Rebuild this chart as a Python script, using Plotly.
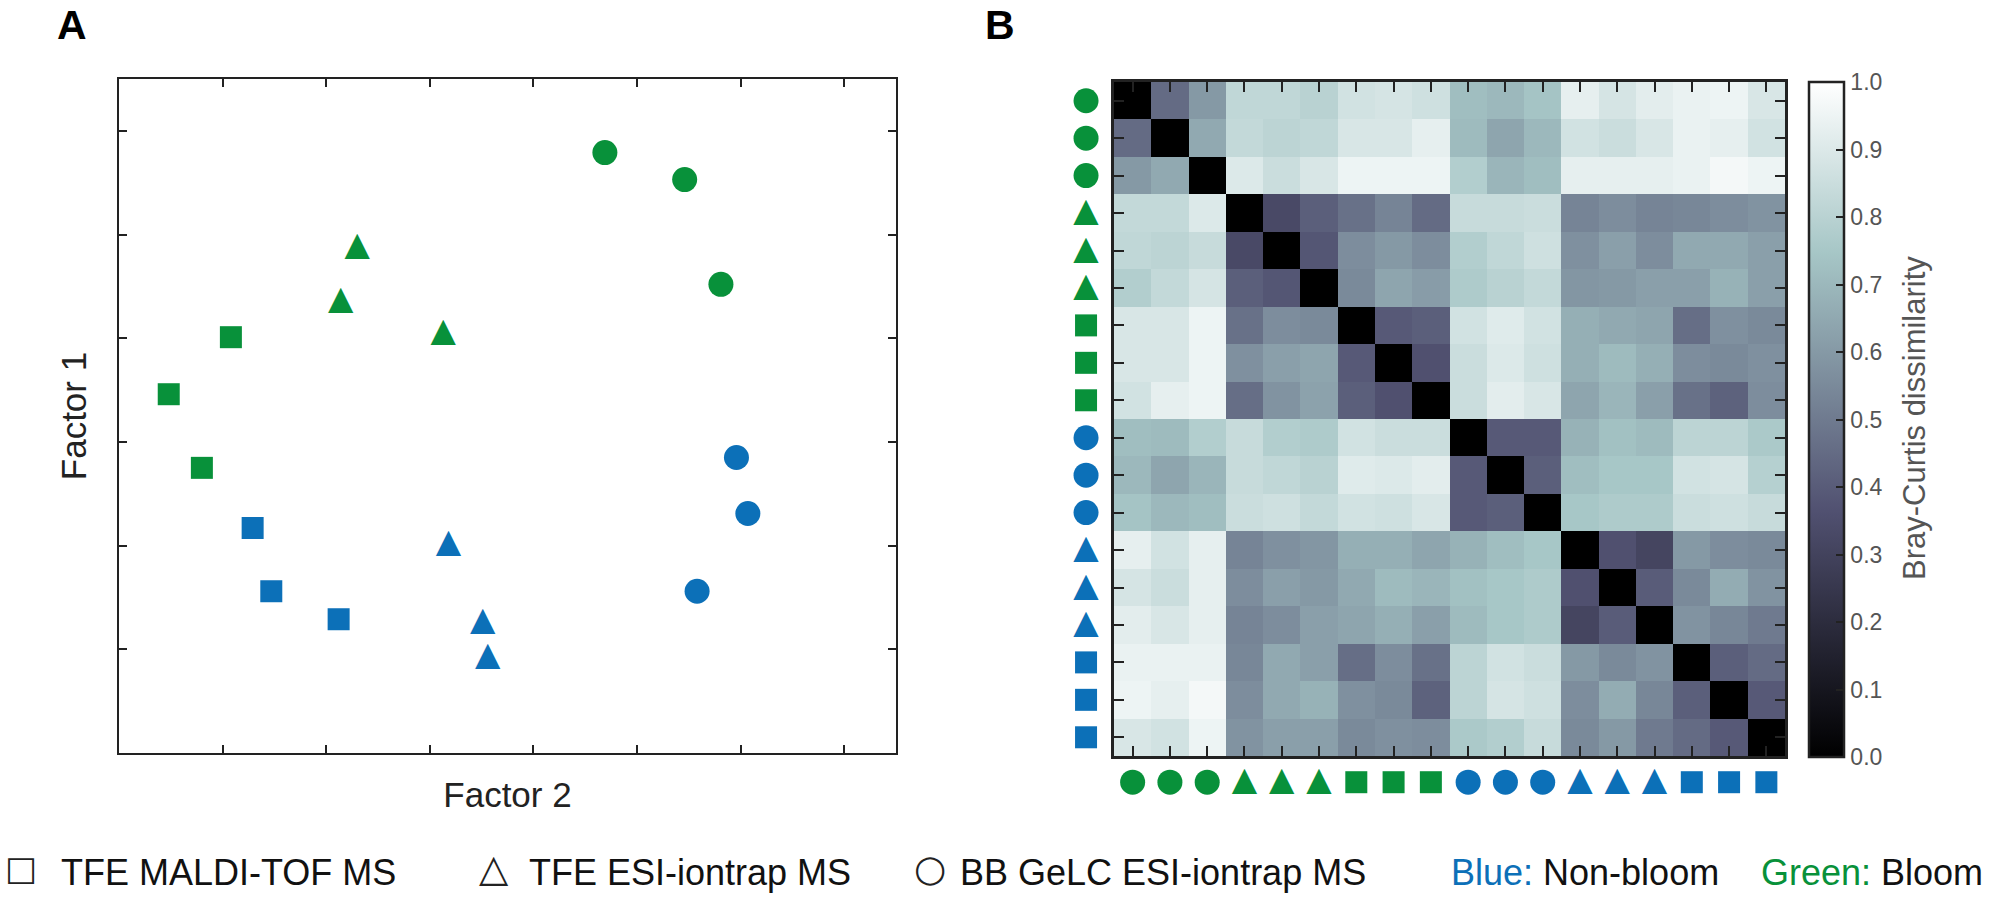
import plotly.graph_objects as go

W = 2003
H = 901
GREEN = "#08913a"
BLUE = "#0c70b8"
DARK = "#222222"
FONT = "Liberation Sans"

# panel A, one pair of lists per group
green_circle_x = [4.69, 5.46, 5.81]
green_circle_y = [5.79, 5.53, 4.52]
green_triangle_x = [2.30, 2.14, 3.13]
green_triangle_y = [4.88, 4.36, 4.05]
green_square_x = [1.08, 0.48, 0.80]
green_square_y = [4.01, 3.46, 2.75]
blue_square_x = [1.29, 1.47, 2.12]
blue_square_y = [2.17, 1.56, 1.29]
blue_triangle_x = [3.18, 3.51, 3.56]
blue_triangle_y = [2.02, 1.27, 0.93]
blue_circle_x = [5.96, 6.07, 5.58]
blue_circle_y = [2.85, 2.31, 1.56]

# panel B
sample_shapes = ["circle"] * 3 + ["triangle"] * 3 + ["square"] * 3 + ["circle"] * 3 + ["triangle"] * 3 + ["square"] * 3
sample_colors = [GREEN] * 9 + [BLUE] * 9
samples = list(range(18))
dissimilarity = [
    [0, .45, .60, .82, .82, .80, .87, .88, .86, .72, .70, .74, .93, .88, .92, .94, .95, .89],
    [.45, 0, .65, .83, .81, .82, .89, .89, .93, .71, .64, .70, .87, .85, .89, .94, .93, .87],
    [.60, .65, 0, .90, .85, .89, .95, .95, .95, .78, .69, .72, .93, .93, .93, .94, .97, .95],
    [.83, .83, .90, 0, .33, .41, .47, .53, .45, .84, .84, .85, .53, .56, .53, .54, .56, .58],
    [.82, .81, .84, .33, 0, .38, .56, .60, .56, .78, .82, .86, .57, .62, .56, .65, .65, .62],
    [.78, .83, .88, .41, .38, 0, .55, .64, .61, .77, .80, .83, .59, .60, .62, .62, .68, .62],
    [.89, .89, .95, .47, .56, .55, 0, .39, .41, .87, .91, .87, .67, .65, .64, .46, .57, .55],
    [.89, .89, .95, .57, .62, .64, .39, 0, .36, .85, .90, .86, .67, .71, .67, .56, .55, .57],
    [.87, .93, .95, .46, .58, .63, .41, .36, 0, .85, .92, .89, .64, .69, .62, .47, .42, .56],
    [.72, .71, .78, .84, .78, .77, .87, .85, .85, 0, .39, .39, .68, .73, .71, .81, .81, .76],
    [.70, .64, .69, .84, .82, .80, .91, .90, .92, .39, 0, .41, .72, .75, .75, .87, .88, .79],
    [.74, .70, .72, .85, .86, .83, .87, .86, .89, .39, .41, 0, .75, .77, .77, .85, .86, .84],
    [.93, .87, .93, .53, .57, .59, .67, .67, .64, .68, .72, .75, 0, .36, .31, .60, .56, .55],
    [.88, .85, .93, .56, .62, .60, .65, .71, .69, .73, .75, .77, .36, 0, .40, .55, .66, .58],
    [.92, .89, .93, .53, .56, .62, .64, .67, .62, .71, .75, .77, .31, .40, 0, .58, .54, .50],
    [.94, .94, .94, .54, .65, .62, .46, .56, .47, .81, .87, .85, .60, .55, .58, 0, .41, .45],
    [.95, .93, .97, .56, .65, .68, .57, .55, .42, .81, .88, .86, .56, .66, .54, .41, 0, .39],
    [.89, .87, .95, .58, .62, .62, .55, .57, .56, .76, .78, .84, .55, .60, .50, .45, .39, 0],
]

# where the symbol columns sit, in cells, outside the matrix
left_symbol_x = -1.25
bottom_symbol_y = 18.2

# same stops as the "bone" map
bone = [
    [0, "rgb(0,0,0)"],
    [0.365, "rgb(81,81,113)"],
    [0.746, "rgb(166,198,198)"],
    [1, "rgb(255,255,255)"],
]


def px(x):
    return x / W


def py(y):
    return 1 - y / H


fig = go.Figure()


def add_marks(x, y, shape, color, xaxis, yaxis):
    # plotly's triangle marker is too flat, the glyph has the right proportions
    if shape == "triangle":
        fig.add_trace(go.Scatter(x=x, y=y, mode="text", text=["\u25b2"] * len(x),
                                 textfont=dict(family="DejaVu Sans", size=33, color=color),
                                 textposition="middle center", cliponaxis=False,
                                 xaxis=xaxis, yaxis=yaxis, showlegend=False))
    else:
        fig.add_trace(go.Scatter(x=x, y=y, mode="markers",
                                 marker=dict(symbol=shape, size=25 if shape == "circle" else 22, color=color),
                                 cliponaxis=False, xaxis=xaxis, yaxis=yaxis, showlegend=False))


add_marks(green_circle_x, green_circle_y, "circle", GREEN, "x", "y")
add_marks(green_triangle_x, green_triangle_y, "triangle", GREEN, "x", "y")
add_marks(green_square_x, green_square_y, "square", GREEN, "x", "y")
add_marks(blue_square_x, blue_square_y, "square", BLUE, "x", "y")
add_marks(blue_triangle_x, blue_triangle_y, "triangle", BLUE, "x", "y")
add_marks(blue_circle_x, blue_circle_y, "circle", BLUE, "x", "y")

fig.add_trace(go.Heatmap(
    z=dissimilarity, x=samples, y=samples, colorscale=bone, zmin=0, zmax=1, xaxis="x2", yaxis="y2",
    colorbar=dict(
        thicknessmode="pixels", thickness=35, lenmode="pixels", len=675,
        x=px(1809), xanchor="left", y=py(757), yanchor="bottom", xpad=0, ypad=0,
        outlinewidth=2.5, outlinecolor=DARK,
        ticks="inside", ticklen=9, tickwidth=2, tickcolor=DARK,
        tickmode="linear", tick0=0, dtick=0.1, tickformat=".1f",
        tickfont=dict(family=FONT, size=23, color="#555555"),
    ),
))

# sample symbols along the left and bottom of the matrix, on a hidden wider axis pair
# because plotly drops points that are outside their own axis range
for i in samples:
    add_marks([left_symbol_x], [i], sample_shapes[i], sample_colors[i], "x3", "y3")
    add_marks([i], [bottom_symbol_y], sample_shapes[i], sample_colors[i], "x3", "y3")

axis_style = dict(showgrid=False, zeroline=False, showticklabels=False, showline=True, linewidth=2,
                  linecolor=DARK, mirror="ticks", ticks="inside", ticklen=8, tickwidth=2, tickcolor=DARK)
matrix_style = dict(axis_style, linewidth=3, ticklen=10)

cell_w = (1785 - 1114) / 18
cell_h = (756 - 82) / 18

fig.update_layout(
    width=W, height=H, margin=dict(l=0, r=0, t=0, b=0), autosize=False,
    paper_bgcolor="white", plot_bgcolor="rgba(0,0,0,0)", showlegend=False,
    xaxis=dict(domain=[px(119), px(896)], range=[0, 7.5], tickvals=[1, 2, 3, 4, 5, 6, 7],
               title=dict(text="Factor 2", font=dict(family=FONT, size=35, color="#222222"), standoff=28),
               **axis_style),
    yaxis=dict(domain=[py(753), py(79)], range=[0, 6.5], tickvals=[1, 2, 3, 4, 5, 6],
               title=dict(text="Factor 1", font=dict(family=FONT, size=35, color="#222222"), standoff=20),
               **axis_style),
    xaxis2=dict(domain=[px(1114), px(1785)], range=[-0.5, 17.5], tickvals=samples, anchor="y2", **matrix_style),
    yaxis2=dict(domain=[py(756), py(82)], range=[17.5, -0.5], tickvals=samples, anchor="x2", **matrix_style),
    xaxis3=dict(domain=[px(1114 - 2 * cell_w), px(1785)], range=[-2.5, 17.5], anchor="y3", visible=False),
    yaxis3=dict(domain=[py(756 + 2 * cell_h), py(82)], range=[19.5, -0.5], anchor="x3", visible=False),
)


def label(x, y, text, size=36, color="#111111", anchor="left", bold=False, family=FONT, angle=0):
    if bold:
        text = "<b>" + text + "</b>"
    fig.add_annotation(x=px(x), y=py(y), xref="paper", yref="paper", text=text, showarrow=False,
                       xanchor=anchor, yanchor="middle", textangle=angle, borderpad=0, borderwidth=0,
                       font=dict(family=family, size=size, color=color))


label(57, 25, "A", size=41, color="black", bold=True)
label(985, 25, "B", size=41, color="black", bold=True)

label(1914, 418, "Bray-Curtis dissimilarity", size=31, color="#555555", anchor="center", angle=-90)

label(21, 868, "\u25a1", size=34, color=DARK, anchor="center", family="DejaVu Sans")
label(61, 872, "TFE MALDI-TOF MS")
label(494, 868, "\u25b3", size=38, color=DARK, anchor="center", family="DejaVu Sans")
label(529, 872, "TFE ESI-iontrap MS")
label(930, 868, "\u25cb", size=37, color=DARK, anchor="center", family="DejaVu Sans")
label(960, 872, "BB GeLC ESI-iontrap MS")
label(1451, 872, '<span style="color:%s">Blue:</span> Non-bloom' % BLUE)
label(1761, 872, '<span style="color:%s">Green:</span> Bloom' % GREEN)

fig.write_html("out.html", config=dict(displayModeBar=False), post_script="document.body.style.margin='0';")
